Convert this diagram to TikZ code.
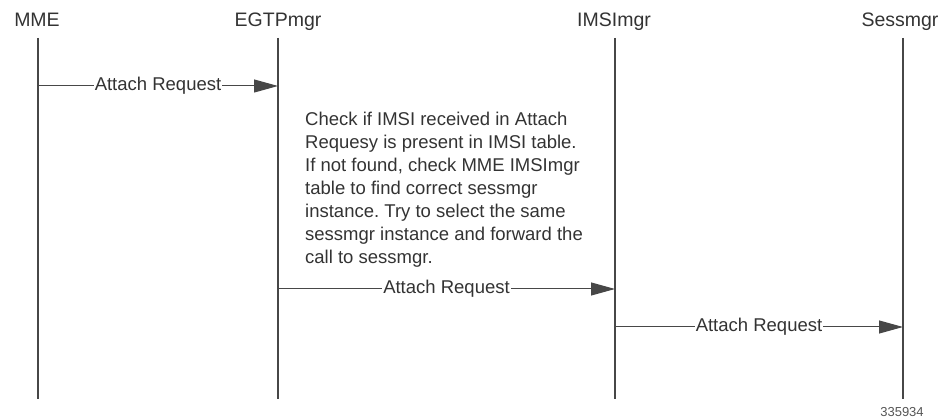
\documentclass[tikz,border=0pt]{standalone}
\usepackage{fontspec}
\setmainfont{Liberation Sans}
\frenchspacing
\usetikzlibrary{arrows.meta, positioning}
\definecolor{LineGray}{HTML}{474747}
\definecolor{TextGray}{HTML}{333333}
\definecolor{TagGray}{HTML}{555555}

\begin{document}
\begin{tikzpicture}[x=1pt, y=-1pt,
        head/.style={font=\fontsize{19.5}{23}\selectfont, text=TextGray, inner sep=0pt, anchor=base},
        life/.style={draw=LineGray, line width=1.3pt},
        msg/.style={-{Triangle[length=24pt, width=13pt]}, draw=LineGray, fill=LineGray, line width=1pt},
        lbl/.style={fill=white, text=TextGray, font=\fontsize{18.5}{22}\selectfont, inner sep=1pt},
        note/.style={text=TextGray, font=\fontsize{18.5}{23}\selectfont, align=left, inner sep=0pt, anchor=north west}
    ]
        \useasboundingbox (0,0) rectangle (945,419);
        \node[head] (mme)  at (37,27)  {MME};
        \node[head] (egtp) at (278,27) {EGTPmgr};
        \node[head] (imsi) at (614,27) {IMSImgr};
        \node[head] (sess) at (900,27) {Sessmgr};
        \coordinate (mmeTop)  at (38,38);  \coordinate (mmeBot)  at (38,399);
        \coordinate (egtpTop) at (278,38); \coordinate (egtpBot) at (278,399);
        \coordinate (imsiTop) at (615,38); \coordinate (imsiBot) at (615,399);
        \coordinate (sessTop) at (903,38); \coordinate (sessBot) at (903,399);
        \draw[life] (mmeTop) -- (mmeBot); \draw[life] (egtpTop) -- (egtpBot);
        \draw[life] (imsiTop) -- (imsiBot); \draw[life] (sessTop) -- (sessBot);
        \coordinate (m1a) at (mmeTop |- 0,86);  \coordinate (m1b) at (egtpTop |- 0,86);
        \coordinate (m2a) at (egtpTop |- 0,289); \coordinate (m2b) at (imsiTop |- 0,289);
        \coordinate (m3a) at (imsiTop |- 0,327); \coordinate (m3b) at (sessTop |- 0,327);
        \draw[msg] (m1a) -- node[lbl] (req1) {Attach Request} (m1b);
        \draw[msg] (m2a) -- node[lbl] (req2) {Attach Request} (m2b);
        \draw[msg] (m3a) -- node[lbl] (req3) {Attach Request} (m3b);
        \node[note] (check) at (305,111.5) {Check if IMSI received in Attach\\Requesy is present in IMSI table.\\If not found, check MME IMSImgr\\table to find correct sessmgr\\instance. Try to select the same\\sessmgr instance and forward the\\call to sessmgr.};
        \node[text=TagGray, font=\fontsize{13}{15}\selectfont, inner sep=0pt] (tag) at (902,412) {335934};
    \end{tikzpicture}
\end{document}
